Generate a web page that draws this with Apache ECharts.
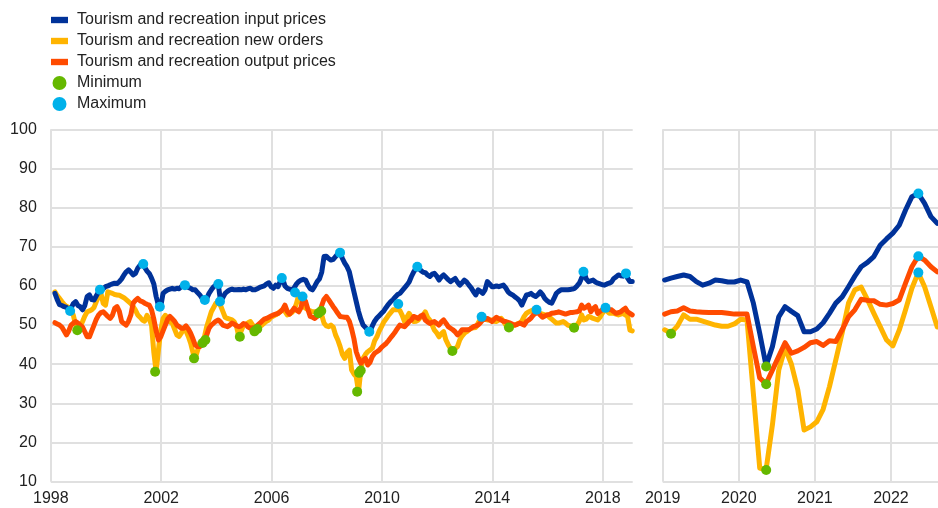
<!DOCTYPE html>
<html>
<head>
<meta charset="utf-8">
<script src="https://cdn.jsdelivr.net/npm/echarts@6.0.0/dist/echarts.min.js"></script>
<style>
  html, body { margin: 0; padding: 0; background: #fff; }
  #chart { width: 938px; height: 508px; }
</style>
</head>
<body>
<div id="chart"></div>
<script>
// monthly indices: left panel from Feb 1998, right panel from Jan 2019
var leftStart = 1998 + 1.8 / 12;
var rightStart = 2019 + 0.3 / 12;

var inputPricesLeft = [
  58.1, 56.5, 55.2, 55.0, 54.7, 54.5, 54.0, 54.3, 55.5, 56.0, 55.0,
  54.7, 53.9, 55.0, 57.3, 57.7, 56.5, 56.4, 57.5, 58.5, 59.0, 59.3, 59.8,
  60.0, 60.3, 60.5, 60.7, 60.6, 61.1, 61.8, 62.8, 63.6, 64.1, 63.5, 62.8,
  63.2, 64.5, 65.3, 65.6, 64.8, 63.8, 63.2, 62.0, 60.5, 57.3, 55.0, 54.7,
  58.1, 58.6, 59.0, 59.2, 59.4, 59.2, 59.4, 59.3, 59.8, 60.4, 60.0, 59.6,
  59.4, 59.0, 59.0, 58.3, 57.7, 56.8, 56.4, 56.8, 58.1, 59.0, 59.8, 60.2,
  60.5, 56.2, 57.0, 58.1, 58.6, 59.0, 59.2, 59.0, 59.0, 59.1, 59.0, 59.2,
  59.0, 59.3, 59.4, 59.0, 59.0, 59.3, 59.6, 59.8, 60.0, 60.5, 60.8, 59.8,
  59.4, 60.2, 59.8, 61.2, 61.9, 60.0, 59.4, 59.2, 59.0, 59.5, 60.5, 61.1,
  61.5, 61.7, 61.5, 60.2, 59.3, 59.0, 60.0, 61.1, 61.8, 63.5, 67.5, 67.6,
  67.0, 66.6, 66.8, 67.5, 68.2, 68.5, 67.0, 65.8, 64.9, 63.6, 61.0, 58.5,
  56.0, 53.5, 51.5, 50.0, 49.4, 48.8, 48.3, 49.8, 51.0, 51.8, 52.4, 53.0,
  53.6, 54.5, 55.3, 56.0, 56.5, 57.2, 57.8, 58.1, 58.8, 59.5, 60.2, 61.0,
  62.4, 63.6, 64.5, 64.9, 64.0, 63.5, 63.4, 62.8, 62.4, 63.0, 63.2, 62.5,
  61.5, 62.3, 62.8, 62.2, 61.6, 61.1, 61.5, 61.9, 61.0, 60.2, 60.8, 61.5,
  61.0, 60.2, 59.5, 58.5, 57.7, 59.0, 58.6, 58.1, 59.0, 61.1, 60.5, 59.8,
  59.8, 60.0, 59.8, 60.0, 60.2, 59.5, 58.5, 58.0, 57.7, 57.2, 56.8, 56.2,
  55.1, 56.4, 57.7, 57.8, 58.1, 57.6, 57.3, 57.8, 58.5, 57.8, 56.8, 56.2,
  55.8, 55.6, 56.8, 58.1, 58.6, 59.0, 59.0, 59.0, 59.0, 59.1, 59.2, 59.4,
  60.0, 60.7, 62.0, 63.6, 61.8, 61.1, 61.3, 61.5, 61.0, 60.7, 60.5, 60.3,
  60.2, 60.5, 60.7, 61.0, 61.9, 62.3, 62.8, 62.6, 62.5, 63.2, 62.0, 61.1,
  61.1
];

var newOrdersLeft = [
  58.5, 57.5, 56.8, 56.0, 55.3, 54.8, 54.5, 54.0, 52.5, 50.0, 48.7,
  49.6, 50.9, 52.3, 53.4, 53.6, 53.9, 54.5, 56.0, 57.3, 58.1, 55.5, 55.1,
  58.5, 58.3, 58.1, 57.8, 57.7, 57.6, 57.3, 57.0, 56.5, 56.0, 55.5, 54.7,
  53.8, 52.6, 52.0, 51.3, 51.0, 52.5, 51.5, 50.0, 43.0, 38.1, 43.6, 48.7,
  51.7, 52.5, 51.7, 50.8, 50.5, 49.0, 47.5, 47.1, 48.0, 49.2, 48.5, 47.1,
  45.4, 43.0, 41.5, 43.5, 45.4, 45.8, 47.0, 49.6, 51.5, 53.4, 54.5, 55.6,
  55.6, 55.0, 53.5, 52.0, 51.7, 51.5, 51.3, 50.8, 49.5, 47.0, 48.5, 50.0,
  50.2, 50.6, 50.9, 50.0, 48.7, 49.0, 49.6, 50.0, 50.5, 51.0, 51.3, 52.0,
  52.3, 52.6, 53.0, 53.5, 53.9, 53.5, 52.6, 52.8, 53.2, 53.9, 55.5, 57.7,
  56.0, 54.7, 54.3, 53.9, 53.6, 53.4, 53.4, 53.4, 53.4, 52.5, 50.5, 49.8,
  49.6, 50.0, 49.5, 47.5, 46.2, 44.5, 42.5, 41.5, 43.0, 43.6, 38.5, 37.5,
  36.8, 33.0, 38.5, 41.5, 42.5, 43.2, 43.6, 44.1, 46.0, 47.0, 48.5, 49.6,
  50.8, 51.6, 52.5, 53.2, 53.9, 53.9, 54.0, 53.7, 52.5, 50.9, 52.0, 53.0,
  52.0, 50.9, 51.0, 51.3, 52.0, 52.5, 53.4, 52.0, 51.3, 50.0, 48.7, 48.0,
  47.0, 47.8, 48.3, 46.2, 45.0, 44.0, 43.2, 44.0, 44.5, 46.2, 47.2, 47.9,
  48.3, 48.8, 49.2, 49.3, 49.4, 50.5, 51.5, 52.0, 51.5, 51.3, 51.3, 51.3,
  51.0, 50.9, 51.3, 51.7, 51.0, 50.0, 49.4, 49.6, 49.8, 50.0, 50.3, 50.5,
  51.0, 52.2, 53.0, 53.4, 53.6, 53.9, 53.9, 53.5, 53.0, 52.8, 52.6, 52.6,
  52.0, 51.5, 51.0, 50.5, 50.5, 50.7, 50.9, 50.5, 50.0, 49.8, 49.2, 49.6,
  50.0, 51.0, 52.6, 51.3, 51.5, 52.2, 52.0, 51.7, 51.5, 51.3, 52.0, 53.0,
  53.9, 53.6, 53.0, 53.0, 53.0, 52.8, 52.6, 52.8, 53.0, 52.6, 52.2, 48.7,
  48.5
];

var outputPricesLeft = [
  50.6, 50.3, 50.0, 49.5, 48.5, 47.5, 48.5, 50.0, 50.5, 50.9, 50.5,
  50.0, 49.5, 48.3, 47.0, 47.0, 48.5, 50.0, 51.5, 52.6, 53.2, 53.4, 52.8,
  52.2, 51.7, 52.5, 54.3, 54.7, 53.5, 50.9, 50.4, 50.0, 51.0, 52.6, 55.6,
  56.3, 56.8, 56.2, 56.0, 55.6, 55.3, 55.1, 53.9, 51.5, 48.5, 46.2, 47.0,
  48.5, 50.0, 51.5, 52.2, 51.6, 51.0, 50.0, 49.6, 49.2, 49.2, 49.8, 49.0,
  47.9, 46.5, 44.9, 44.5, 44.5, 45.2, 46.2, 47.5, 49.2, 50.0, 50.5, 51.0,
  51.3, 50.8, 50.0, 49.8, 49.6, 50.0, 50.5, 50.2, 49.8, 49.6, 49.8, 50.4,
  50.2, 49.5, 49.2, 49.3, 49.4, 49.9, 50.4, 51.0, 51.5, 51.7, 52.0, 52.3,
  52.6, 52.8, 53.0, 53.4, 54.0, 55.1, 53.5, 52.8, 53.5, 54.3, 53.8, 53.4,
  54.5, 56.8, 56.0, 54.0, 52.2, 52.0, 51.7, 52.2, 53.0, 55.0, 56.6, 57.3,
  56.5, 55.6, 54.7, 53.9, 53.0, 52.2, 52.1, 52.0, 52.0, 51.0, 49.0, 46.5,
  43.2, 41.5, 40.2, 41.0, 41.5, 39.8, 40.5, 42.0, 42.8, 43.2, 43.6, 44.3,
  44.8, 45.3, 46.0, 46.8, 47.5, 48.3, 49.2, 50.0, 49.8, 49.6, 50.2, 50.9,
  51.3, 52.2, 52.0, 51.7, 52.3, 52.6, 51.3, 50.8, 50.4, 50.7, 50.9, 50.4,
  50.0, 50.8, 51.3, 50.5, 49.6, 49.2, 48.8, 48.3, 47.5, 48.0, 48.8, 48.8,
  48.8, 48.8, 49.2, 49.6, 49.8, 50.0, 50.6, 51.3, 51.5, 51.7, 51.3, 50.9,
  51.5, 52.0, 51.6, 51.3, 51.0, 50.9, 50.7, 50.5, 50.2, 50.0, 50.2, 50.5,
  50.3, 50.0, 50.9, 51.3, 51.8, 52.6, 53.0, 53.2, 52.6, 52.0, 52.3, 52.6,
  52.7, 53.0, 53.1, 53.2, 53.4, 53.2, 53.0, 52.8, 53.0, 53.2, 53.2, 53.3,
  53.4, 53.6, 55.1, 54.3, 54.6, 55.1, 53.4, 54.2, 54.7, 53.0, 53.5, 53.9,
  54.1, 54.3, 54.0, 53.9, 53.4, 53.0, 53.2, 53.4, 53.9, 54.3, 53.4, 53.0,
  52.6
];

var inputPricesRight = [
  61.5, 62.0, 62.4, 62.8, 62.4, 61.1, 60.2, 60.7, 61.5, 61.3, 61.0, 61.0,
  61.5, 61.0, 55.6, 47.9, 39.6, 44.5, 52.1, 54.7, 53.5, 52.4, 48.3, 48.3,
  49.0, 50.6, 53.0, 55.6, 57.2, 59.8, 62.5, 64.9, 66.0, 67.5, 70.4, 72.0,
  73.5, 75.5, 79.4, 82.8, 83.6, 81.1, 77.7, 76.0
];

var newOrdersRight = [
  48.8, 48.0, 49.7, 52.6, 51.5, 51.5, 51.0, 50.5, 50.0, 49.7, 49.7, 50.3,
  51.5, 51.3, 32.5, 13.5, 13.0, 24.5, 38.5, 44.1, 40.0, 33.5, 23.2, 24.0,
  25.3, 28.5, 34.3, 41.1, 48.0, 55.6, 59.0, 59.7, 56.5, 53.0, 49.6, 46.2,
  44.7, 48.7, 53.9, 59.4, 63.4, 59.8, 54.7, 49.5
];

var outputPricesRight = [
  52.8, 53.4, 53.6, 54.4, 53.6, 53.4, 53.3, 53.2, 53.2, 53.2, 53.0, 52.8,
  52.8, 52.8, 44.5, 36.5, 35.0, 38.5, 42.0, 45.5, 42.8, 43.4, 44.3, 45.5,
  45.8, 44.8, 46.0, 45.8, 48.8, 52.1, 53.9, 56.6, 56.3, 56.2, 55.3, 55.1,
  55.5, 56.4, 60.7, 64.9, 67.6, 66.6, 64.9, 63.6
];

// [date as decimal year, value]
var minimumLeft = [
  [1998.96, 48.7], [2001.78, 38.1], [2003.19, 41.5], [2003.50, 45.4],
  [2003.60, 46.2], [2004.85, 47.0], [2005.38, 48.4], [2005.48, 49.0],
  [2007.70, 53.0], [2007.80, 53.6], [2009.10, 33.0], [2009.17, 37.8],
  [2009.23, 38.4], [2012.55, 43.4], [2014.60, 49.4], [2016.96, 49.3]
];
var maximumLeft = [
  [1998.70, 53.6], [1999.78, 59.0], [2001.35, 65.6], [2001.95, 54.7],
  [2002.86, 60.2], [2003.58, 56.4], [2004.07, 60.5], [2004.13, 56.0],
  [2006.37, 62.0], [2006.85, 58.3], [2007.12, 57.3], [2008.48, 68.5],
  [2009.54, 48.3], [2010.59, 55.4], [2011.28, 64.9], [2013.61, 52.1],
  [2015.60, 53.9], [2017.30, 63.6], [2018.10, 54.4], [2018.84, 63.2]
];
var minimumRight = [[2019.11, 47.8], [2020.36, 39.4], [2020.36, 34.9], [2020.36, 13.0]];
var maximumRight = [[2022.36, 83.6], [2022.36, 67.6], [2022.36, 63.4]];

var names = [
  'Tourism and recreation input prices',
  'Tourism and recreation new orders',
  'Tourism and recreation output prices',
  'Minimum',
  'Maximum'
];
var colors = ['#003299', '#ffb400', '#ff4b00', '#65b800', '#00b1ea'];

function monthly(values, start) {
  return values.map(function (v, i) { return [start + i / 12, v]; });
}

var font = "'Liberation Sans', Arial, sans-serif";
var gridColor = '#e0e0e0';

function lineSeries(idx, values, start, axis) {
  return {
    name: names[idx],
    type: 'line',
    xAxisIndex: axis,
    yAxisIndex: axis,
    data: monthly(values, start),
    symbol: 'none',
    color: colors[idx],
    lineStyle: { width: 5, color: colors[idx], cap: 'round', join: 'round' },
    z: 2
  };
}

function dotSeries(idx, points, axis) {
  return {
    name: names[idx],
    type: 'scatter',
    xAxisIndex: axis,
    yAxisIndex: axis,
    data: points,
    symbol: 'circle',
    symbolSize: 10,
    color: colors[idx],
    itemStyle: { color: colors[idx], opacity: 1 },
    z: 5
  };
}

function xAxis(grid, min, max, interval) {
  return {
    type: 'value',
    gridIndex: grid,
    min: min,
    max: max,
    interval: interval,
    axisLine: { show: false },
    axisTick: { show: false },
    axisLabel: {
      show: true,
      showMaxLabel: false,
      margin: 9,
      fontSize: 16,
      color: '#222',
      fontFamily: font,
      formatter: function (v) { return Math.round(v) === v ? String(v) : ''; }
    },
    splitLine: { show: true, showMaxLine: false, lineStyle: { color: gridColor, width: 2 } }
  };
}

function yAxis(grid, labels) {
  return {
    type: 'value',
    gridIndex: grid,
    min: 10,
    max: 100,
    interval: 10,
    axisLine: { show: false },
    axisTick: { show: false },
    axisLabel: { show: labels, margin: 14, fontSize: 16, color: '#222', fontFamily: font },
    splitLine: { show: true, lineStyle: { color: gridColor, width: 2 } }
  };
}

var bar = 'path://M0,0L16,0L16,6L0,6Z';

var chart = echarts.init(document.getElementById('chart'), null, { renderer: 'canvas' });
chart.setOption({
  animation: false,
  backgroundColor: '#fff',
  textStyle: { fontFamily: font },
  legend: {
    orient: 'vertical',
    left: 46,
    top: 7,
    itemWidth: 17,
    itemHeight: 14,
    itemGap: 5,
    textStyle: { fontSize: 16, color: '#222', fontFamily: font, lineHeight: 16, padding: [0, 0, 0, 4] },
    data: [
      { name: names[0], icon: bar },
      { name: names[1], icon: bar },
      { name: names[2], icon: bar },
      { name: names[3], icon: 'circle' },
      { name: names[4], icon: 'circle' }
    ]
  },
  grid: [
    { left: 50.8, top: 129.3, width: 581.9, height: 352.4, outerBoundsMode: 'none' },
    { left: 662.7, top: 129.3, width: 275.3, height: 352.4, outerBoundsMode: 'none' }
  ],
  xAxis: [
    xAxis(0, 1998, 2019.084, 4),
    xAxis(1, 2019, 2022.618, 1)
  ],
  yAxis: [
    yAxis(0, true),
    yAxis(1, false)
  ],
  series: [
    lineSeries(1, newOrdersLeft, leftStart, 0),
    lineSeries(2, outputPricesLeft, leftStart, 0),
    lineSeries(0, inputPricesLeft, leftStart, 0),
    lineSeries(1, newOrdersRight, rightStart, 1),
    lineSeries(2, outputPricesRight, rightStart, 1),
    lineSeries(0, inputPricesRight, rightStart, 1),
    dotSeries(3, minimumLeft, 0),
    dotSeries(4, maximumLeft, 0),
    dotSeries(3, minimumRight, 1),
    dotSeries(4, maximumRight, 1)
  ]
});
</script>
</body>
</html>
